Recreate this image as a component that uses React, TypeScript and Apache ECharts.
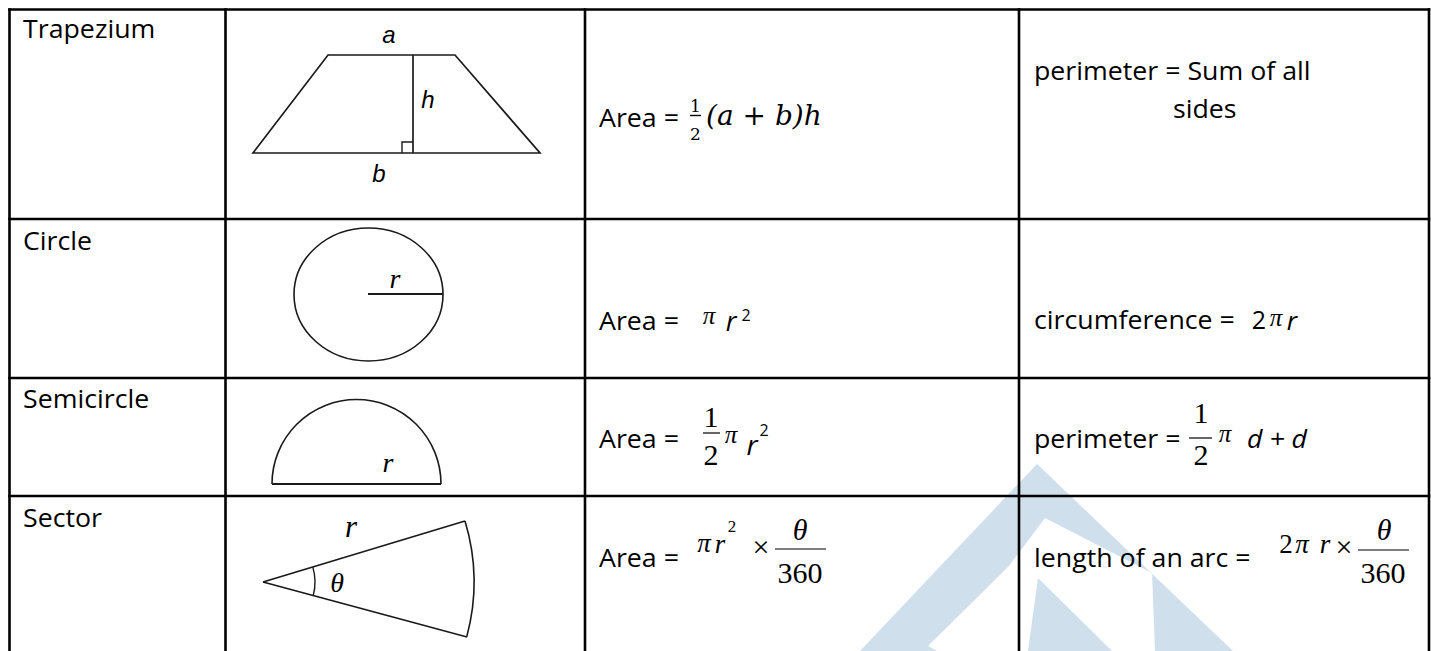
import React, { useEffect, useRef } from "react";
import * as echarts from "echarts";

// ---- content ----
const shapeNames = ["Trapezium", "Circle", "Semicircle", "Sector"];
const areaLabel = "Area =";
const perimeterSumLines = ["perimeter = Sum of all", "sides"];
const circumferenceLabel = "circumference =";
const semicirclePerimeterLabel = "perimeter =";
const arcLengthLabel = "length of an arc =";
const trapeziumSideLabels = ["a", "h", "b"];
const radiusLabel = "r";
const angleLabel = "θ";
const halfFraction = ["1", "2"];
const degreeFraction = ["θ", "360"];
const piSymbol = "π";
const squareExp = "2";
const timesSign = "×";
const diameterSum = "d + d";
const trapeziumBracket = "(a + b)h";

const SANS = "'Open Sans', 'Noto Sans', sans-serif";
const SERIF = "'Liberation Serif', 'Times New Roman', serif";
const ARIAL = "'Liberation Sans', Arial, sans-serif";
const MATH = "'DejaVu Serif', serif";
const K: Record<string, number> = { sans: 0.388, serif: 0.3375, arial: 0.3465, math: 0.37 };
const FAM: Record<string, string> = { sans: SANS, serif: SERIF, arial: ARIAL, math: MATH };
const SX = 1.07;

type TOpts = { size: number; fam?: string; italic?: boolean; align?: string; sx?: number };
function T(x: number, baseline: number, text: string, o: TOpts) {
  const fam = o.fam || "sans";
  const sx = o.sx !== undefined ? o.sx : fam === "sans" ? SX : 1;
  return {
    type: "text",
    x,
    y: baseline - K[fam] * o.size,
    scaleX: sx,
    z: 10,
    style: {
      text,
      fill: "#000",
      font: `${o.italic ? "italic " : ""}${o.size}px ${FAM[fam]}`,
      textAlign: o.align || "left",
      textVerticalAlign: "middle",
      verticalAlign: "middle",
    },
  };
}
function L(x1: number, y1: number, x2: number, y2: number, w = 1.6, c = "#1a1a1a") {
  return { type: "line", z: 5, shape: { x1, y1, x2, y2 }, style: { stroke: c, lineWidth: w } };
}

function buildGraphics() {
  const g: any[] = [];
  // watermark
  const wm = "#cfdfeb";
  g.push({
    type: "polygon",
    z: 1,
    shape: {
      points: [
        [860, 651], [1037, 464], [1233, 651], [1155, 651], [1152, 573],
        [1045, 518], [1008, 567], [928, 646], [937, 651],
      ],
    },
    style: { fill: wm },
  });
  g.push({
    type: "polygon",
    z: 1,
    shape: { points: [[1038, 578], [1028, 651], [1112, 651]] },
    style: { fill: wm },
  });

  // table grid
  const TW = 2.6;
  [9.5, 225.5, 585, 1019, 1429].forEach((x) => g.push(L(x, 8.2, x, 660, TW, "#000")));
  [9.5, 219, 378, 496].forEach((y) => g.push(L(8.2, y, 1430.3, y, TW, "#000")));

  // column 1 names
  const nameBase = [38, 250, 408, 527];
  shapeNames.forEach((n, i) => g.push(T(23, nameBase[i], n, { size: 25 })));

  // trapezium drawing
  g.push({
    type: "polygon", z: 5,
    shape: { points: [[328, 55], [455, 55], [540, 153], [253, 153]] },
    style: { fill: "none", stroke: "#1a1a1a", lineWidth: 1.7 },
  });
  g.push(L(413, 55, 413, 153, 1.7));
  g.push({ type: "polyline", z: 5, shape: { points: [[402, 153], [402, 142], [413, 142]] }, style: { fill: "none", stroke: "#1a1a1a", lineWidth: 1.4 } });
  g.push(T(389, 43, trapeziumSideLabels[0], { size: 24, fam: "arial", italic: true, align: "center" }));
  g.push(T(428, 108, trapeziumSideLabels[1], { size: 24, fam: "arial", italic: true, align: "center" }));
  g.push(T(379, 182, trapeziumSideLabels[2], { size: 24, fam: "arial", italic: true, align: "center" }));

  // circle drawing
  g.push({ type: "ellipse", z: 5, shape: { cx: 368.5, cy: 294.5, rx: 74.5, ry: 66.5 }, style: { fill: "none", stroke: "#1a1a1a", lineWidth: 1.6 } });
  g.push(L(368, 294, 443, 294, 1.8));
  g.push(T(395, 288, radiusLabel, { size: 28, fam: "serif", italic: true, align: "center" }));

  // semicircle drawing
  g.push({ type: "arc", z: 5, shape: { cx: 356.5, cy: 484, r: 84.5, startAngle: Math.PI, endAngle: Math.PI * 2, clockwise: true }, style: { fill: "none", stroke: "#1a1a1a", lineWidth: 1.6 } });
  g.push(L(272, 484, 441, 484, 1.8));
  g.push(T(388, 472, radiusLabel, { size: 28, fam: "serif", italic: true, align: "center" }));

  // sector drawing
  g.push(L(263, 582, 465, 521, 1.8));
  g.push(L(263, 582, 467, 637, 1.8));
  g.push({ type: "arc", z: 5, shape: { cx: 263, cy: 582, r: 211, startAngle: -0.293, endAngle: 0.263, clockwise: true }, style: { fill: "none", stroke: "#1a1a1a", lineWidth: 1.6 } });
  g.push({ type: "arc", z: 5, shape: { cx: 263, cy: 582, r: 52, startAngle: -0.29, endAngle: 0.265, clockwise: true }, style: { fill: "none", stroke: "#1a1a1a", lineWidth: 1.4 } });
  g.push(T(337, 592, angleLabel, { size: 28, fam: "serif", italic: true, align: "center" }));
  g.push(T(351, 537, radiusLabel, { size: 31, fam: "serif", italic: true, align: "center" }));

  // ---- row 1 formulas ----
  g.push(T(599, 127, areaLabel, { size: 25 }));
  g.push(T(695.5, 112, halfFraction[0], { size: 17, fam: "math", align: "center" }));
  g.push(L(690, 115.5, 701, 115.5, 1.4, "#000"));
  g.push(T(695.5, 140, halfFraction[1], { size: 17, fam: "math", align: "center" }));
  g.push(T(706, 126, trapeziumBracket, { size: 28, fam: "math", italic: true }));
  g.push(T(1034, 80, perimeterSumLines[0], { size: 25 }));
  g.push(T(1173, 118, perimeterSumLines[1], { size: 25 }));

  // ---- row 2 formulas ----
  g.push(T(599, 330, areaLabel, { size: 25 }));
  g.push(T(709, 324, piSymbol, { size: 25, fam: "serif", italic: true, align: "center" }));
  g.push(T(731, 331, radiusLabel, { size: 27, italic: true, align: "center", sx: 1 }));
  g.push(T(746, 321, squareExp, { size: 16, align: "center", sx: 1 }));
  g.push(T(1034, 329, circumferenceLabel, { size: 25 }));
  g.push(T(1259, 329, "2", { size: 25, align: "center", sx: 1 }));
  g.push(T(1276, 326, piSymbol, { size: 25, fam: "serif", italic: true, align: "center" }));
  g.push(T(1292, 330, radiusLabel, { size: 26, italic: true, align: "center", sx: 1 }));

  // ---- row 3 formulas ----
  g.push(T(599, 448, areaLabel, { size: 25 }));
  g.push(T(711, 427, halfFraction[0], { size: 30, fam: "serif", align: "center" }));
  g.push(L(703, 433, 720, 433, 1.2, "#000"));
  g.push(T(711, 465, halfFraction[1], { size: 30, fam: "serif", align: "center" }));
  g.push(T(731, 443, piSymbol, { size: 25, fam: "serif", italic: true, align: "center" }));
  g.push(T(752, 455, radiusLabel, { size: 28, italic: true, align: "center", sx: 1 }));
  g.push(T(764, 436, squareExp, { size: 16, align: "center", sx: 1 }));

  g.push(T(1034, 448, semicirclePerimeterLabel, { size: 25 }));
  g.push(T(1201, 423, halfFraction[0], { size: 30, fam: "serif", align: "center" }));
  g.push(L(1189, 438, 1212, 438, 1.2, "#000"));
  g.push(T(1201, 465, halfFraction[1], { size: 30, fam: "serif", align: "center" }));
  g.push(T(1225, 442, piSymbol, { size: 25, fam: "serif", italic: true, align: "center" }));
  g.push(T(1247, 448, diameterSum, { size: 25, italic: true }));

  // ---- row 4 formulas ----
  g.push(T(599, 567, areaLabel, { size: 25 }));
  g.push(T(704, 552, piSymbol, { size: 27, fam: "serif", italic: true, align: "center" }));
  g.push(T(720, 553, radiusLabel, { size: 27, fam: "serif", italic: true, align: "center" }));
  g.push(T(732, 532, squareExp, { size: 17, fam: "serif", align: "center" }));
  g.push(T(761, 557, timesSign, { size: 30, fam: "serif", align: "center" }));
  g.push(L(775, 549, 826, 549, 1.2, "#000"));
  g.push(T(800, 540, degreeFraction[0], { size: 30, fam: "serif", italic: true, align: "center" }));
  g.push(T(800, 583, degreeFraction[1], { size: 30, fam: "serif", align: "center" }));

  g.push(T(1034, 567, arcLengthLabel, { size: 25 }));
  g.push(T(1286, 553, "2", { size: 27, fam: "serif", align: "center" }));
  g.push(T(1302, 553, piSymbol, { size: 27, fam: "serif", italic: true, align: "center" }));
  g.push(T(1325, 553, radiusLabel, { size: 27, fam: "serif", italic: true, align: "center" }));
  g.push(T(1344, 557, timesSign, { size: 30, fam: "serif", align: "center" }));
  g.push(L(1358, 550, 1409, 550, 1.2, "#000"));
  g.push(T(1384, 540, degreeFraction[0], { size: 30, fam: "serif", italic: true, align: "center" }));
  g.push(T(1383, 583, degreeFraction[1], { size: 30, fam: "serif", align: "center" }));

  return g;
}

export default function App() {
  const ref = useRef<HTMLDivElement>(null);
  useEffect(() => {
    document.body.style.margin = "0";
    if (!ref.current) return;
    const chart = echarts.init(ref.current, undefined, { renderer: "svg" });
    chart.setOption({
      animation: false,
      backgroundColor: "#ffffff",
      graphic: { elements: buildGraphics() },
    });
    return () => chart.dispose();
  }, []);
  return <div ref={ref} style={{ width: 1431, height: 651 }} />;
}
